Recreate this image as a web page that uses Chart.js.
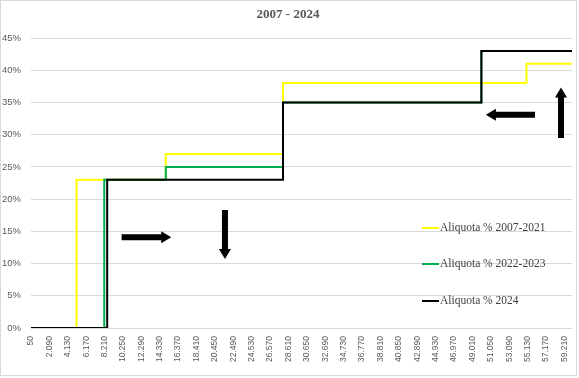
<!DOCTYPE html>
<html>
<head>
<meta charset="utf-8">
<script src="https://cdn.jsdelivr.net/npm/chart.js@4.4.1/dist/chart.umd.min.js"></script>
<style>
  html, body { margin: 0; padding: 0; background: #fff; }
  #wrap { width: 579px; height: 378px; }
</style>
</head>
<body>
<div id="wrap"><canvas id="grafico" width="579" height="378"></canvas></div>
<script>
// soglie di reddito (euro) e aliquote (%)
const soglie2007 = [50, 5100, 15000, 28000, 55000, 60050];
const aliquote2007 = [0, 23, 27, 38, 41, 41];
const soglie2022 = [50, 8174, 15000, 28000, 50000, 60050];
const aliquote2022 = [0, 23, 25, 35, 43, 43];
const soglie2024 = [50, 8500, 28000, 50000, 60050];
const aliquote2024 = [0, 23, 35, 43, 43];
const etichette = ['Aliquota % 2007-2021', 'Aliquota % 2022-2023', 'Aliquota % 2024'];
const tickX = [50, 2090, 4130, 6170, 8210, 10250, 12290, 14330, 16370, 18410, 20450, 22490,
  24530, 26570, 28610, 30650, 32690, 34730, 36770, 38810, 40850, 42890, 44930, 46970,
  49010, 51050, 53090, 55130, 57170, 59210];

const toPoints = (xs, ys) => xs.map((x, i) => ({ x: x, y: ys[i] }));
const fmt = v => String(v).replace(/\B(?=(\d{3})+(?!\d))/g, '.');

// frecce disegnate sul grafico (coordinate in unita' dei dati)
const frecce = [
  { from: [10100, 14.1], to: [15600, 14.1] },
  { from: [21560, 18.3], to: [21560, 10.7] },
  { from: [55950, 33.1], to: [50500, 33.1] },
  { from: [58830, 29.5], to: [58830, 37.3] }
];

function drawArrow(ctx, x1, y1, x2, y2) {
  const ang = Math.atan2(y2 - y1, x2 - x1);
  const len = Math.hypot(x2 - x1, y2 - y1);
  const head = 10, hw = 6, sw = 3;
  ctx.save();
  ctx.translate(x1, y1);
  ctx.rotate(ang);
  ctx.fillStyle = '#000';
  ctx.beginPath();
  ctx.moveTo(0, -sw);
  ctx.lineTo(len - head, -sw);
  ctx.lineTo(len - head, -hw);
  ctx.lineTo(len, 0);
  ctx.lineTo(len - head, hw);
  ctx.lineTo(len - head, sw);
  ctx.lineTo(0, sw);
  ctx.closePath();
  ctx.fill();
  ctx.restore();
}

const decorazioni = {
  id: 'decorazioni',
  beforeDraw(chart) {
    const ctx = chart.ctx;
    ctx.save();
    ctx.fillStyle = '#fff';
    ctx.fillRect(0, 0, chart.width, chart.height);
    ctx.strokeStyle = '#d9d9d9';
    ctx.lineWidth = 1;
    ctx.strokeRect(0.5, 0.5, 576, 375);
    ctx.restore();
  },
  afterDraw(chart) {
    const ctx = chart.ctx;
    const xs = chart.scales.x, ys = chart.scales.y;
    ctx.save();
    // titolo
    ctx.fillStyle = '#595959';
    ctx.font = 'bold 13px "Liberation Serif", serif';
    ctx.textAlign = 'center';
    ctx.textBaseline = 'middle';
    ctx.fillText('2007 - 2024', 288, 15);
    // legenda dentro l'area del grafico
    const yLeg = [228, 264, 301];
    ctx.font = '11.5px "Liberation Serif", serif';
    ctx.textAlign = 'left';
    chart.data.datasets.forEach((ds, i) => {
      ctx.strokeStyle = ds.borderColor;
      ctx.lineWidth = 2;
      ctx.beginPath();
      ctx.moveTo(422, yLeg[i]);
      ctx.lineTo(439, yLeg[i]);
      ctx.stroke();
      ctx.fillStyle = '#404040';
      ctx.fillText(ds.label, 440, yLeg[i]);
    });
    frecce.forEach(f => {
      drawArrow(ctx, xs.getPixelForValue(f.from[0]), ys.getPixelForValue(f.from[1]),
        xs.getPixelForValue(f.to[0]), ys.getPixelForValue(f.to[1]));
    });
    ctx.restore();
  }
};

new Chart(document.getElementById('grafico'), {
  type: 'line',
  data: {
    datasets: [{
      label: etichette[0],
      data: toPoints(soglie2007, aliquote2007),
      borderColor: '#FFFF00',
      order: 3
    }, {
      label: etichette[1],
      data: toPoints(soglie2022, aliquote2022),
      borderColor: '#00B050',
      order: 2
    }, {
      label: etichette[2],
      data: toPoints(soglie2024, aliquote2024),
      borderColor: '#000000',
      order: 1
    }]
  },
  options: {
    responsive: false,
    animation: false,
    layout: { padding: { top: 38, right: 7, left: 0, bottom: 0 } },
    elements: {
      line: { borderWidth: 2, stepped: true, fill: false, tension: 0 },
      point: { radius: 0 }
    },
    plugins: {
      legend: { display: false },
      title: { display: false },
      tooltip: { enabled: false }
    },
    scales: {
      x: {
        type: 'linear',
        min: 50,
        max: 60050,
        afterBuildTicks: s => { s.ticks = tickX.map(v => ({ value: v })); },
        afterFit: s => { s.height = 50; s.paddingLeft = 0; s.paddingRight = 0; },
        grid: { display: false, drawTicks: false },
        border: { display: false },
        ticks: {
          autoSkip: false,
          minRotation: 90,
          maxRotation: 90,
          padding: 8,
          color: '#595959',
          font: { family: '"Liberation Sans", sans-serif', size: 8.5 },
          callback: v => fmt(v)
        }
      },
      y: {
        min: 0,
        max: 45,
        afterFit: s => { s.width = 31; s.paddingTop = 0; s.paddingBottom = 0; },
        grid: { color: '#d9d9d9', lineWidth: 1, drawTicks: false },
        border: { display: false },
        ticks: {
          stepSize: 5,
          padding: 10,
          color: '#595959',
          font: { family: '"Liberation Sans", sans-serif', size: 9.5 },
          callback: v => v + '%'
        }
      }
    }
  },
  plugins: [decorazioni]
});
</script>
</body>
</html>
